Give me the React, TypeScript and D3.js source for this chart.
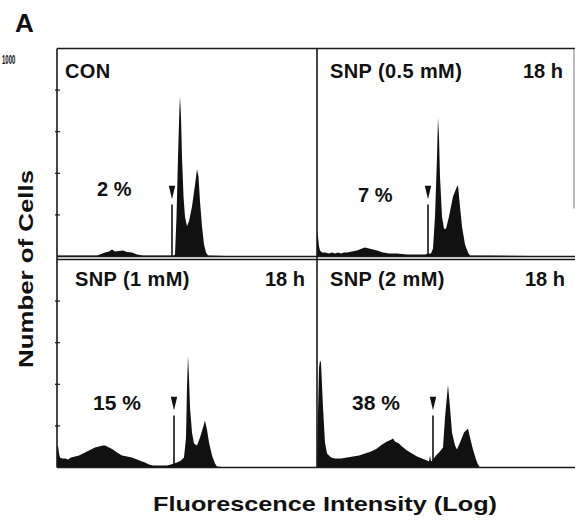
import React from 'react';
import * as d3 from 'd3';

// panel text
const panelTitles = ['CON', 'SNP (0.5 mM)', 'SNP (1 mM)', 'SNP (2 mM)'];
const panelTimes = ['', '18 h', '18 h', '18 h'];
const apoptosisLabels = ['2 %', '7 %', '15 %', '38 %'];

// gate marker channel per panel (sub-G1 boundary)
const markerChannels = [115, 111, 117, 116];

// y axis (number of cells)
const yTicks = [200, 400, 600, 800];
const yMaxLabel = '1000';

// histograms: channel (log fluorescence) and cell counts
const conChannels = [0, 20, 40, 43, 48, 52, 55, 58, 62, 66, 70, 75, 80, 86, 100, 117, 118, 119.5, 121, 122.5, 123, 124, 125, 126.5, 128, 130, 132, 135, 138, 140, 141.5, 143, 145, 147, 149, 151, 170, 260];
const conCounts = [5, 5, 5, 10, 19, 24, 34, 24, 26, 29, 22, 19, 10, 5, 5, 5, 10, 190, 480, 720, 770, 670, 480, 290, 190, 145, 170, 240, 345, 420, 385, 265, 145, 58, 19, 5, 3, 0];

const snp05Channels = [0, 1, 2, 3, 5, 8, 12, 15, 18, 21, 24, 27, 30, 35, 40, 45, 48, 52, 56, 60, 66, 72, 80, 90, 100, 108, 111, 114, 116, 118, 120, 121, 122, 123, 125, 127, 129, 132, 136, 140, 141, 143, 145, 148, 151, 153, 170, 260];
const snp05Counts = [125, 96, 48, 29, 19, 19, 14, 19, 14, 19, 14, 19, 19, 24, 29, 38, 43, 38, 34, 29, 19, 14, 14, 10, 10, 10, 14, 14, 38, 192, 480, 667, 576, 384, 192, 134, 134, 192, 288, 336, 341, 240, 144, 58, 19, 5, 5, 0];

const snp1Channels = [0, 1, 2, 3, 5, 8, 11, 14, 18, 22, 26, 30, 34, 38, 42, 46, 48, 52, 56, 60, 65, 70, 75, 80, 85, 88, 92, 96, 105, 110, 114, 117, 120, 124, 127, 129, 130, 131, 132, 133, 135, 137, 140, 143, 146, 148, 150, 152, 155, 158, 160, 170, 260];
const snp1Counts = [96, 106, 67, 48, 43, 43, 38, 48, 53, 58, 67, 77, 86, 96, 101, 106, 106, 96, 86, 72, 58, 53, 48, 38, 29, 24, 14, 10, 10, 10, 14, 19, 24, 34, 48, 144, 384, 538, 432, 288, 168, 115, 106, 144, 192, 226, 182, 120, 58, 19, 5, 0, 0];

const snp2Channels = [0, 2, 3, 4, 6, 8, 10, 14, 18, 24, 30, 36, 42, 48, 54, 60, 65, 70, 74, 76, 78, 82, 85, 90, 95, 100, 105, 110, 112, 113, 114, 116, 119, 122, 126, 128, 131, 133, 135, 138, 140, 143, 147, 151, 153, 156, 159, 161, 163, 170, 260];
const snp2Counts = [48, 480, 514, 504, 288, 120, 67, 48, 43, 43, 48, 53, 58, 67, 77, 91, 110, 125, 134, 139, 125, 115, 101, 82, 67, 53, 43, 34, 29, 58, 29, 38, 58, 72, 96, 240, 398, 288, 168, 106, 86, 120, 168, 187, 144, 86, 38, 14, 0, 0, 0];

const histChannels = [conChannels, snp05Channels, snp1Channels, snp2Channels];
const histCounts = [conCounts, snp05Counts, snp1Counts, snp2Counts];

// layout
const W = 575;
const H = 520;
const colLeft = [57, 317];
const rowBottom = [256.5, 467.5];
const panelW = 260;
const panelH = 208;
const titleDx = [8, 13, 18, 13];
const timeRight = [0, 246, 248, 248];
const titleBaseline = [78, 286];
const labelDx = [40, 41, 36, 35];
const labelDy = [-61, -55, -58, -58];
const labelSize = [20, 20, 21, 21];
const font = '"Liberation Sans", Arial, Helvetica, sans-serif';
const ink = '#111';

const Panel = ({ i }: { i: number }) => {
  const col = i % 2;
  const row = Math.floor(i / 2);
  const x0 = colLeft[col];
  const yb = rowBottom[row];
  const x = d3.scaleLinear().domain([0, 260]).range([x0, x0 + panelW]);
  const y = d3.scaleLinear().domain([0, 1000]).range([yb, yb - panelH]);
  const pts = histChannels[i].map((c, k) => [c, histCounts[i][k]] as [number, number]);
  const area = d3.area<[number, number]>()
    .x(d => x(d[0]))
    .y0(y(0))
    .y1(d => y(d[1]))
    .curve(d3.curveLinear);
  const mx = x(markerChannels[i]);
  const clipId = `clip${i}`;
  return (
    <g>
      <clipPath id={clipId}>
        <rect x={x0} y={yb - panelH} width={col === 1 ? W - x0 : panelW} height={panelH} />
      </clipPath>
      <path d={area(pts) || ''} fill={ink} clipPath={`url(#${clipId})`} />
      <line x1={mx} x2={mx} y1={y(0)} y2={y(250)} stroke={ink} strokeWidth={1.6} />
      <path d={`M${mx - 3.2},${y(340)}L${mx + 3.2},${y(340)}L${mx},${y(275)}Z`} fill={ink} />
      <text x={x0 + titleDx[i]} y={titleBaseline[row]} fontSize={20} fontWeight="bold" letterSpacing={0.4} fill={ink}>
        {panelTitles[i]}
      </text>
      {panelTimes[i] && (
        <text x={x0 + timeRight[i]} y={titleBaseline[row]} fontSize={20} fontWeight="bold" textAnchor="end" fill={ink}>
          {panelTimes[i]}
        </text>
      )}
      <text x={x0 + labelDx[i]} y={yb + labelDy[i]} fontSize={labelSize[i]} fontWeight="bold" fill={ink}>
        {apoptosisLabels[i]}
      </text>
    </g>
  );
};

export default function App() {
  const yLeft = d3.scaleLinear().domain([0, 1000]).range([rowBottom[0], rowBottom[0] - panelH]);
  const yLeft2 = d3.scaleLinear().domain([0, 1000]).range([rowBottom[1], rowBottom[1] - panelH]);
  const top = rowBottom[0] - panelH;
  return (
    <div style={{ position: 'absolute', left: 0, top: 0 }}>
      <svg width={W} height={H} style={{ display: 'block', background: '#fff', fontFamily: font }}>
        <text x={15} y={32} fontSize={26} fontWeight="bold" fill={ink}>A</text>
        <text transform="translate(2,64) scale(0.5,1)" fontSize={12} fontWeight="bold" fill={ink}>
          {yMaxLabel}
        </text>

        {[0, 1, 2, 3].map(i => <Panel key={i} i={i} />)}

        {/* frames */}
        <g stroke="#1a1a1a" strokeWidth={1.6} fill="none">
          <line x1={colLeft[0]} x2={W} y1={top} y2={top} />
          <line x1={colLeft[0]} x2={W} y1={rowBottom[0]} y2={rowBottom[0]} />
          <line x1={colLeft[0]} x2={W} y1={rowBottom[0] + 3} y2={rowBottom[0] + 3} />
          <line x1={colLeft[0]} x2={W} y1={rowBottom[1]} y2={rowBottom[1]} />
          <line x1={colLeft[0]} x2={colLeft[0]} y1={top} y2={rowBottom[1]} />
          <line x1={colLeft[1]} x2={colLeft[1]} y1={top} y2={rowBottom[1]} />
          <line x1={574} x2={574} y1={top} y2={rowBottom[0] - 48} stroke="#777" strokeWidth={1} />
        </g>
        <g stroke="#1a1a1a" strokeWidth={1.2}>
          {yTicks.map(t => (
            <line key={`a${t}`} x1={colLeft[0] - 2} x2={colLeft[0] + 3} y1={yLeft(t)} y2={yLeft(t)} />
          ))}
          {yTicks.map(t => (
            <line key={`b${t}`} x1={colLeft[0] - 2} x2={colLeft[0] + 3} y1={yLeft2(t)} y2={yLeft2(t)} />
          ))}
        </g>

        <text
          transform="translate(33,269) rotate(-90)"
          textAnchor="middle"
          fontSize={20.5}
          fontWeight="bold"
          textLength={198}
          lengthAdjust="spacingAndGlyphs"
          fill={ink}
        >
          Number of Cells
        </text>
        <text
          x={325}
          y={511}
          textAnchor="middle"
          fontSize={21}
          fontWeight="bold"
          textLength={344}
          lengthAdjust="spacingAndGlyphs"
          fill={ink}
        >
          Fluorescence Intensity (Log)
        </text>
      </svg>
    </div>
  );
}
